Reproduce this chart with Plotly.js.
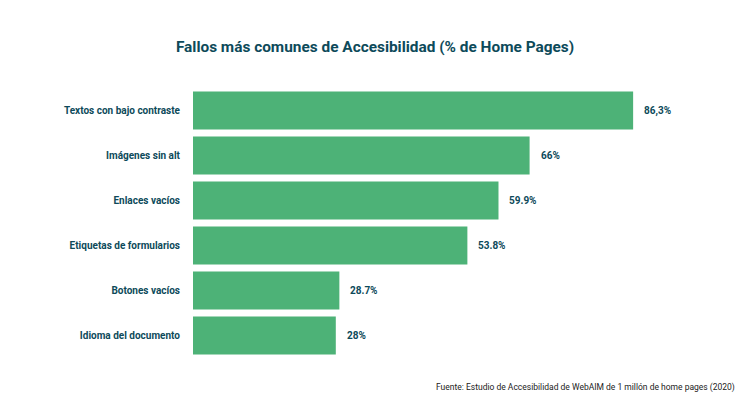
<!DOCTYPE html>
<html>
<head>
<meta charset="utf-8">
<script src="https://cdn.plot.ly/plotly-3.0.1.min.js"></script>
<style>html,body{margin:0;padding:0;background:#fff;}#chart{width:750px;height:400px;}</style>
</head>
<body>
<div id="chart"></div>
<script>
const categories = ["Textos con bajo contraste", "Imágenes sin alt", "Enlaces vacíos", "Etiquetas de formularios", "Botones vacíos", "Idioma del documento"];
const values = [86.3, 66, 59.9, 53.8, 28.7, 28];
const valueLabels = ["86,3%", "66%", "59.9%", "53.8%", "28.7%", "28%"];

const teal = "#0d4a5a";
const green = "#4db277";

const trace = {
  type: "bar",
  orientation: "h",
  y: categories,
  x: values,
  marker: {color: green},
  hoverinfo: "skip"
};

const annotations = categories.map((c, i) => ({
  x: values[i], y: c, xref: "x", yref: "y",
  text: valueLabels[i], showarrow: false,
  xanchor: "left", xshift: 9,
  font: {family: "Roboto", size: 10, color: teal, weight: "bold"}
}));
annotations.push({
  xref: "paper", yref: "paper", x: 1.067, y: -0.111,
  xanchor: "right", yanchor: "middle", showarrow: false,
  text: "Fuente: Estudio de Accesibilidad de WebAIM de 1 millón de home pages (2020)",
  font: {family: "Roboto", size: 8.5, color: "#222"}
});

const layout = {
  width: 750, height: 400,
  margin: {l: 193, r: 47, t: 88, b: 42},
  paper_bgcolor: "#fff", plot_bgcolor: "#fff",
  title: {text: "Fallos más comunes de Accesibilidad (% de Home Pages)",
    font: {family: "Roboto", size: 15.4, color: teal, weight: "bold"},
    x: 0.5, xanchor: "center", y: 0.883, yanchor: "middle"},
  xaxis: {range: [0, 100], visible: false, fixedrange: true},
  yaxis: {autorange: "reversed", showgrid: false, zeroline: false, showline: false,
    ticks: "", ticklabelstandoff: 12,
    tickfont: {family: "Roboto", size: 10, color: teal, weight: "bold"}},
  bargap: 0.16,
  showlegend: false,
  annotations: annotations
};

Plotly.newPlot("chart", [trace], layout, {displayModeBar: false, staticPlot: true});
</script>
</body>
</html>
